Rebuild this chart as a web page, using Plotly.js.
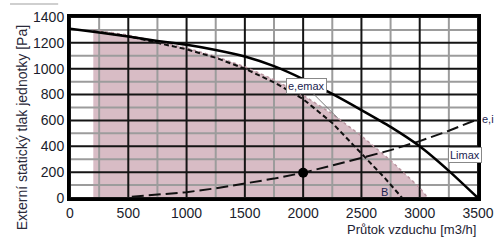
<!DOCTYPE html>
<html>
<head>
<meta charset="utf-8">
<script src="https://cdn.plot.ly/plotly-3.0.1.min.js"></script>
<style>html,body{margin:0;padding:0;background:#fff;}#chart{width:498px;height:243px;}</style>
</head>
<body>
<div id="chart"></div>
<script>
// Top solid curve (Limax)
const limaxFlow = [0, 250, 500, 750, 1000, 1250, 1500, 1750, 2000, 2250, 2500, 2750, 3000, 3250, 3500];
const limaxPa   = [1310, 1280, 1250, 1215, 1185, 1145, 1095, 1020, 920, 805, 680, 550, 400, 210, 0];

// Pink operating area boundary (e,emax)
const areaFlow = [200, 200, 500, 750, 1000, 1250, 1500, 1750, 2000, 2250, 2500, 2750, 3000, 3070];
const areaPa   = [0, 1300, 1260, 1210, 1160, 1095, 1015, 915, 795, 650, 480, 290, 80, 0];

// Dashed curve B
const bFlow = [200, 500, 750, 1000, 1250, 1500, 1750, 2000, 2250, 2500, 2700, 2850];
const bPa   = [1290, 1252, 1200, 1150, 1085, 1000, 895, 765, 580, 340, 155, 0];

// System curve e,i
const sysFlow = [530, 750, 1000, 1250, 1500, 1750, 2000, 2250, 2500, 2750, 3000, 3250, 3500];
const sysPa   = [10, 25, 45, 75, 110, 150, 195, 250, 310, 370, 440, 520, 610];

// Working point
const ptFlow = [2000];
const ptPa = [195];

// Tick / grid values
const xMajor = [0, 500, 1000, 1500, 2000, 2500, 3000, 3500];
const xMinor = [250, 750, 1250, 1750, 2250, 2750, 3250];
const yMajor = [0, 200, 400, 600, 800, 1000, 1200, 1400];
const yMinor = [100, 300, 500, 700, 900, 1100, 1300];
const xRange = [0, 3500];
const yRange = [0, 1400];

const path = 'M ' + areaFlow.map((x, i) => x + ',' + areaPa[i]).join(' L ') + ' Z';

const vLine = (v, c, w) => ({type: 'line', xref: 'x', yref: 'y', x0: v, x1: v, y0: yRange[0], y1: yRange[1], line: {color: c, width: w}, layer: 'below'});
const hLine = (v, c, w) => ({type: 'line', xref: 'x', yref: 'y', x0: xRange[0], x1: xRange[1], y0: v, y1: v, line: {color: c, width: w}, layer: 'below'});

const shapes = [{type: 'path', path: path, xref: 'x', yref: 'y', fillcolor: '#d8bcc5', line: {width: 0}, layer: 'below'}]
  .concat(xMinor.map(v => vLine(v, '#9c9c9c', 2)))
  .concat(yMinor.map(v => hLine(v, '#9c9c9c', 2)))
  .concat(xMajor.map(v => vLine(v, '#151515', 2)))
  .concat(yMajor.map(v => hLine(v, '#151515', 2)))
  .concat([{type: 'line', xref: 'paper', yref: 'paper', x0: -0.147, x1: -0.029, y0: 1.072, y1: 1.072, line: {color: '#cfcfcf', width: 2}}]);

const traces = [
  {x: areaFlow.slice(1), y: areaPa.slice(1), mode: 'lines', line: {color: '#b9949f', width: 1.5, dash: 'dot'}, hoverinfo: 'skip'},
  {x: bFlow, y: bPa, mode: 'lines', line: {color: '#111', width: 2, dash: '5px,3px'}, hoverinfo: 'skip'},
  {x: sysFlow, y: sysPa, mode: 'lines', line: {color: '#111', width: 2, dash: '12px,5px'}, hoverinfo: 'skip'},
  {x: limaxFlow, y: limaxPa, mode: 'lines', line: {color: '#000', width: 2.5, shape: 'spline', smoothing: 0.6}, hoverinfo: 'skip'},
  {x: ptFlow, y: ptPa, mode: 'markers', marker: {color: '#000', size: 10}, hoverinfo: 'skip'}
];

const tickFont = {family: 'Liberation Sans, Arial, sans-serif', size: 14, color: '#1a1d2c'};
const labFont = {family: 'Liberation Sans, Arial, sans-serif', size: 11, color: '#1a2350'};

const layout = {
  width: 498, height: 243,
  margin: {l: 70, r: 20, t: 17, b: 45},
  paper_bgcolor: '#fff', plot_bgcolor: 'rgba(255,255,255,0)',
  showlegend: false,
  xaxis: {
    range: xRange, tickvals: xMajor, ticktext: xMajor.map(String),
    showgrid: false, showline: true, mirror: true, linecolor: '#000', linewidth: 3,
    zeroline: false, tickfont: tickFont
  },
  yaxis: {
    range: yRange, tickvals: yMajor, ticktext: yMajor.map(String),
    showgrid: false, showline: true, mirror: true, linecolor: '#000', linewidth: 3,
    zeroline: false, tickfont: tickFont
  },
  shapes: shapes,
  annotations: [
    {xref: 'paper', yref: 'paper', x: -0.14, y: 0.39, text: 'Externí statický tlak jednotky [Pa]', textangle: -90,
     showarrow: false, font: {family: 'Liberation Sans, Arial, sans-serif', size: 14, color: '#2a2a3a'}},
    {xref: 'paper', yref: 'paper', x: 1.0, y: -0.175, xanchor: 'right', yanchor: 'middle', text: 'Průtok vzduchu [m3/h]',
     showarrow: false, font: {family: 'Liberation Sans, Arial, sans-serif', size: 13, color: '#1d2233'}},
    {x: 2300, y: 615, ax: -32, ay: -32, text: 'e,emax', showarrow: true, arrowhead: 0, arrowwidth: 1, arrowcolor: '#777',
     bgcolor: '#fff', bordercolor: '#888', borderwidth: 1, borderpad: 1, font: labFont},
    {x: 3390, y: 333, text: 'Limax', showarrow: false,
     bgcolor: '#fff', bordercolor: '#888', borderwidth: 1, borderpad: 1, font: labFont},
    {x: 3500, y: 612, xanchor: 'left', xshift: 2, text: 'e,i', showarrow: false, font: labFont},
    {x: 2700, y: 50, text: 'B', showarrow: false, font: {family: 'Liberation Sans, Arial, sans-serif', size: 11, color: '#1a2350'}}
  ]
};

Plotly.newPlot('chart', traces, layout, {displayModeBar: false});
</script>
</body>
</html>
